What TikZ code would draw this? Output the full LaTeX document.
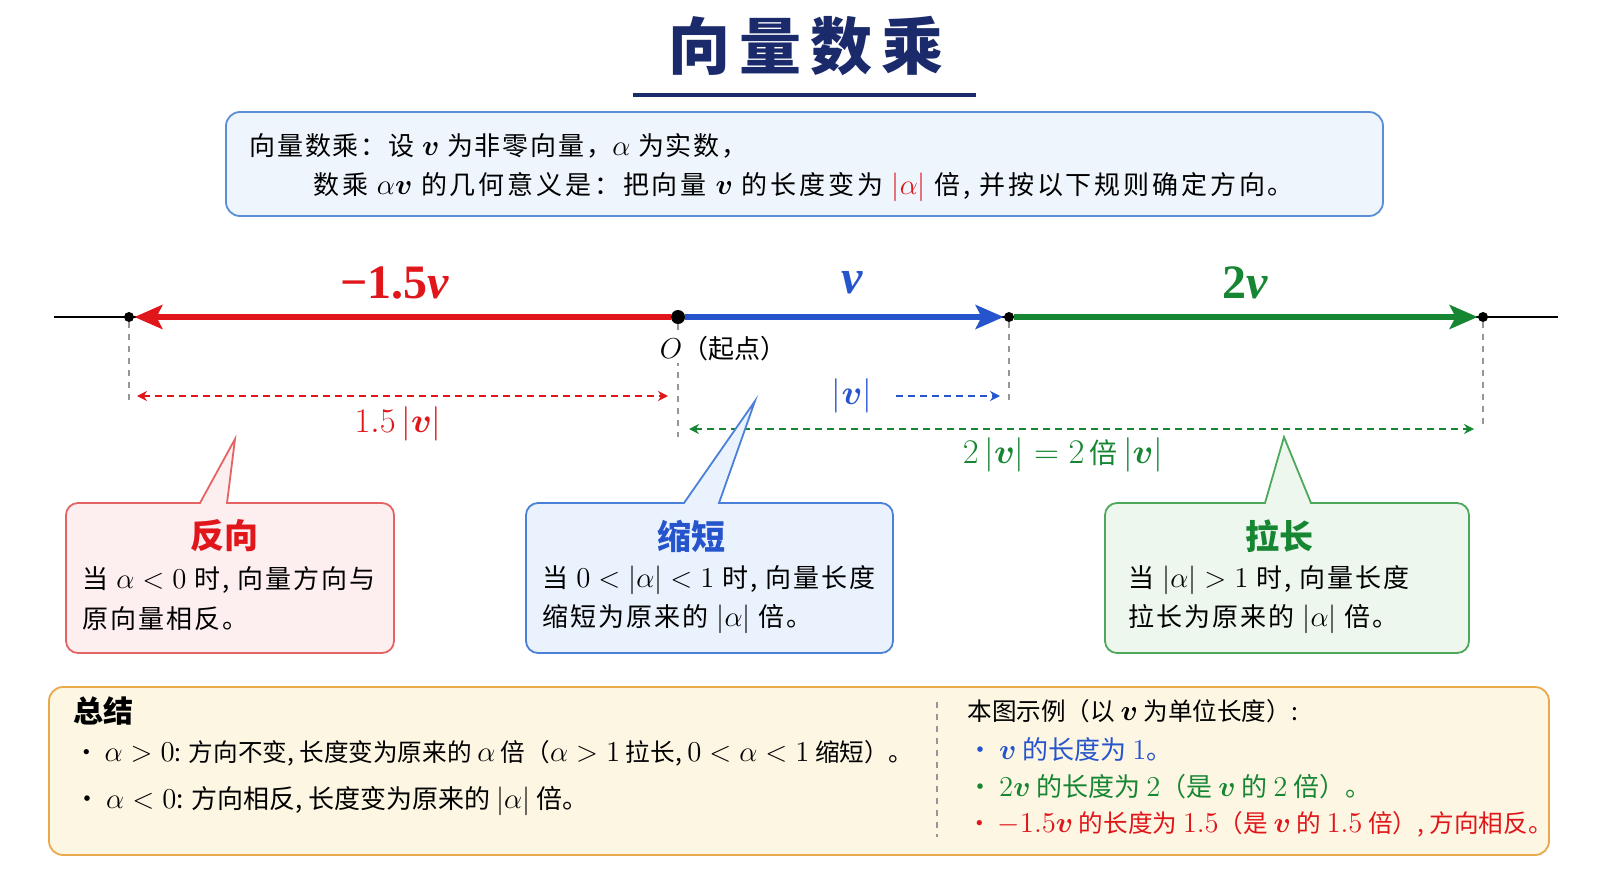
\documentclass[tikz,border=0pt]{standalone}
\usepackage{amsmath,amssymb}
\usepackage[no-math]{fontspec}
\setmainfont{Noto Sans CJK SC}
\newfontfamily\vecfont{Liberation Serif}
\usetikzlibrary{positioning,arrows.meta,calc}

\definecolor{navyT}{RGB}{27,42,107}
\definecolor{redA}{RGB}{224,22,27}
\definecolor{blueA}{RGB}{38,84,204}
\definecolor{greenA}{RGB}{22,134,50}
\definecolor{guidegray}{RGB}{150,150,150}

\newcommand{\vv}{\boldsymbol{v}}
\newcommand{\m}[1]{{\fontsize{15.5}{16}\selectfont$#1$}}
\newcommand{\spc}[1]{\addfontfeatures{LetterSpace=#1}}

\tikzset{
  mainvec/.style={line width=2.6pt,-{Stealth[length=14pt,width=12pt,inset=3pt]}},
  dimarrow/.style={line width=0.8pt,dash pattern=on 3.5pt off 2.5pt,{Stealth[length=5pt,width=5pt]}-{Stealth[length=5pt,width=5pt]}},
  guide/.style={guidegray,line width=0.6pt,dash pattern=on 3pt off 3pt},
  ptdot/.style={circle,fill=black,inner sep=0pt,minimum size=5pt},
  body/.style={anchor=west,inner sep=0pt,font=\fontsize{13}{16}\selectfont},
  bodysmall/.style={anchor=west,inner sep=0pt,font=\fontsize{12.3}{15}\selectfont},
  bigvec/.style={font=\vecfont\fontsize{24}{28}\selectfont\bfseries},
  calltitle/.style={font=\fontsize{17}{20}\selectfont\bfseries},
}

\begin{document}
\begin{tikzpicture}[x=0.5pt,y=-0.5pt,>=Stealth]
  \useasboundingbox[fill=white] (0,0) rectangle (1600,878);

  % Title
  \node[navyT,font=\fontsize{31}{36}\selectfont\bfseries\addfontfeatures{LetterSpace=15}] (title) at (806,46) {向量数乘};
  \draw[navyT,line width=2pt] (633,95) -- (976,95);

  % Definition box
  \draw[rounded corners=7pt,fill={rgb,255:red,238;green,245;blue,252},draw={rgb,255:red,90;green,143;blue,216},line width=0.9pt]
    (226,112) rectangle (1383,216);
  \node[body] (def1) at (249,146) {\spc{7}向量数乘：设 \m{\vv} 为非零向量，\m{\alpha} 为实数，};
  \node[body] (def2) at (313,187) {\spc{11}数乘 \m{\alpha\vv} 的几何意义是：把向量 \m{\vv} 的长度变为 \textcolor{redA}{\m{|\alpha|}} 倍, 并按以下规则确定方向。};

  % Number line
  \coordinate (L) at (54,317);
  \coordinate (R) at (1558,317);
  \draw[line width=1pt] (L) -- (R);
  \node[ptdot] (Pm) at (129,317) {};
  \node[ptdot,minimum size=7pt] (O) at (678,317) {};
  \node[ptdot] (P1) at (1009,317) {};
  \node[ptdot] (P2) at (1483,317) {};

  % Vectors
  \draw[mainvec,redA] (O) -- (Pm);
  \draw[mainvec,blueA] (O) -- (P1);
  \draw[mainvec,greenA] (P1) -- (P2);
  \node[bigvec,redA] (lm) at (395,283) {−1.5\textit{v}};
  \node[bigvec,blueA] (l1) at (852,283) {\textit{v}};
  \node[bigvec,greenA] (l2) at (1245,283) {2\textit{v}};

  % Guides
  \draw[guide] (Pm) -- (129,405);
  \draw[guide] (O) -- (678,437);
  \draw[guide] (P1) -- (1009,405);
  \draw[guide] (P2) -- (1483,429);
  \node[fill=white,inner sep=1pt,font=\fontsize{13}{16}\selectfont] (Olab) at (723,349) {\m{O}（起点）};

  % Length marks
  \coordinate (mA) at (137,396);
  \coordinate (mB) at (668,396);
  \draw[dimarrow,redA] (mA) -- (mB);
  \node[redA,font=\fontsize{16}{18}\selectfont] (ml) at (398,424) {$1.5\,|\vv|$};

  \node[blueA,font=\fontsize{16}{18}\selectfont] (vl) at (852,396) {$|\vv|$};
  \coordinate (vB) at (1000,396);
  \draw[line width=0.8pt,dash pattern=on 3.5pt off 2.5pt,-{Stealth[length=5pt,width=5pt]},blueA] (vl.east) ++(17,0) -- (vB);

  \coordinate (gA) at (689,429);
  \coordinate (gB) at (1474,429);
  \draw[dimarrow,greenA] (gA) -- (gB);
  \node[greenA,font=\fontsize{16}{18}\selectfont] (gl) at (1063,455) {$2\,|\vv| = 2$\,{\fontsize{14}{16}\selectfont 倍}\,$|\vv|$};

  % Callout: reverse
  \draw[fill={rgb,255:red,253;green,238;blue,240},draw={rgb,255:red,228;green,100;blue,100},line width=0.9pt]
    (235,439) -- (200,503) [rounded corners=6pt] -- (66,503) -- (66,653) -- (394,653) -- (394,503) [sharp corners] -- (227,503) -- cycle;
  \node[calltitle,redA] (t1) at (224,536) {反向};
  \node[body] (c1a) at (82,580) {\spc{8}当 \m{\alpha < 0} 时, 向量方向与};
  \node[body] (c1b) at (82,619) {\spc{8}原向量相反。};

  % Callout: shorten
  \draw[fill={rgb,255:red,234;green,243;blue,253},draw={rgb,255:red,74;green,128;blue,216},line width=0.9pt]
    (755,401) -- (684,503) [rounded corners=6pt] -- (526,503) -- (526,653) -- (893,653) -- (893,503) [sharp corners] -- (719,503) -- cycle;
  \node[calltitle,blueA] (t2) at (691,536) {缩短};
  \node[body] (c2a) at (542,580) {\spc{8}当 \m{0 < |\alpha| < 1} 时, 向量长度};
  \node[body] (c2b) at (542,619) {\spc{8}缩短为原来的 \m{|\alpha|} 倍。};

  % Callout: stretch
  \draw[fill={rgb,255:red,238;green,247;blue,238},draw={rgb,255:red,78;green,168;blue,90},line width=0.9pt]
    (1284,437) -- (1265,503) [rounded corners=6pt] -- (1105,503) -- (1105,653) -- (1469,653) -- (1469,503) [sharp corners] -- (1311,503) -- cycle;
  \node[calltitle,greenA] (t3) at (1279,536) {拉长};
  \node[body] (c3a) at (1128,580) {\spc{8}当 \m{|\alpha| > 1} 时, 向量长度};
  \node[body] (c3b) at (1128,619) {\spc{8}拉长为原来的 \m{|\alpha|} 倍。};

  % Summary box
  \draw[rounded corners=7pt,fill={rgb,255:red,253;green,246;blue,227},draw={rgb,255:red,233;green,169;blue,74},line width=0.9pt]
    (49,687) rectangle (1549,855);
  \node[body,font=\fontsize{15}{18}\selectfont\bfseries] (sum) at (73,711) {总结};
  \node[bodysmall] (s1) at (74,753) {\textbullet\ \m{\alpha > 0}: 方向不变, 长度变为原来的 \m{\alpha} 倍（\m{\alpha > 1} 拉长, \m{0 < \alpha < 1} 缩短）。};
  \node[body] (s2) at (74,801) {\textbullet\ \m{\alpha < 0}: 方向相反, 长度变为原来的 \m{|\alpha|} 倍。};
  \draw[guide] (937,702) -- (937,837);
  \node[bodysmall] (e0) at (967,711) {本图示例（以 \m{\vv} 为单位长度）:};
  \node[body,blueA] (e1) at (967,750) {\textbullet\ \m{\vv} 的长度为 \m{1}。};
  \node[body,greenA] (e2) at (967,787) {\textbullet\ \m{2\vv} 的长度为 \m{2}（是 \m{\vv} 的 \m{2} 倍）。};
  \node[bodysmall,redA] (e3) at (967,824) {\textbullet\ \m{-1.5\vv} 的长度为 \m{1.5}（是 \m{\vv} 的 \m{1.5} 倍）, 方向相反。};

\end{tikzpicture}
\end{document}
